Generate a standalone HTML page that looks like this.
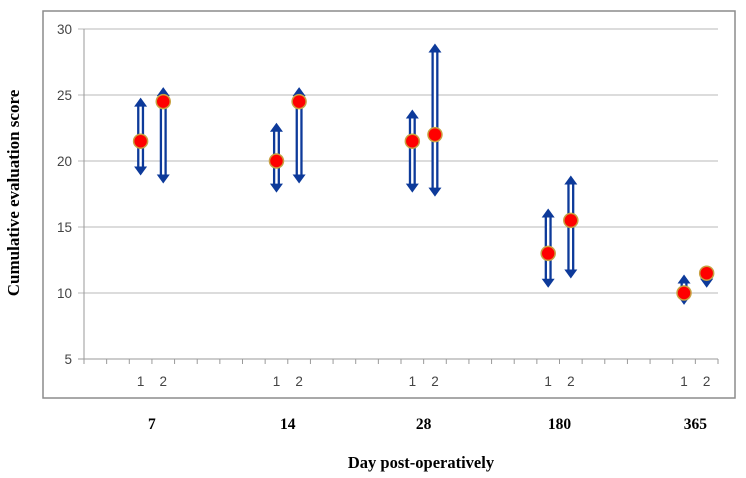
<!DOCTYPE html>
<html><head><meta charset="utf-8"><style>
body{margin:0;background:#fff;}
svg{display:block;font-family:"Liberation Sans",sans-serif;}
.serif{font-family:"Liberation Serif",serif;font-weight:bold;}
</style></head><body>
<svg id="chart" width="746" height="478" viewBox="0 0 746 478">
<rect x="43" y="11" width="692" height="387" fill="#fff" stroke="#8c8c8c" stroke-width="1.5"/>
<g id="grid"></g><g id="marks"></g>
<text x="19" y="193" class="serif" font-size="17" text-anchor="middle" transform="rotate(-90 19 193)">Cumulative evaluation score</text>
<text x="421" y="468" class="serif" font-size="16.5" text-anchor="middle">Day post-operatively</text>
</svg>
<script>
const groups=["7","14","28","180","365"];
const groupSlots=[2.5,8.5,14.5,20.5,26.5];
const subLabels=["1","2"];
const means=[21.5,24.5,20,24.5,21.5,22,13,15.5,10,11.5];
const uppers=[24.8,25.6,22.9,25.6,23.9,28.9,16.4,18.9,11.4,11.8];
const lowers=[18.9,18.3,17.6,18.3,17.6,17.3,10.4,11.1,9.1,10.4];
const yTicks=[5,10,15,20,25,30];
const nSlots=28;
const X0=84,X1=718,Y0=359,Y1=29;
const sx=i=>X0+(X1-X0)/nSlots*(i+0.5);
const sy=v=>Y0-(v-5)/(30-5)*(Y0-Y1);
const NS="http://www.w3.org/2000/svg";
function mk(t,a,p){const e=document.createElementNS(NS,t);for(const k in a)e.setAttribute(k,a[k]);p.appendChild(e);return e;}
const grid=document.getElementById('grid'),marks=document.getElementById('marks');
yTicks.forEach(v=>{
  const y=sy(v);
  const l=mk('line',{x1:X0-6,x2:X1,y1:y,y2:y,stroke:v===5?'#9a9a9a':'#b8b8b8','stroke-width':1},grid);
  
  
  const t=mk('text',{x:X0-12,y:y+5,'text-anchor':'end','font-size':13.5,fill:'#444'},grid);
  t.textContent=v;
  
  
});
const ax=mk('line',{x1:X0,x2:X0,y1:Y1,y2:Y0,stroke:'#9a9a9a'},grid);


for(let i=0;i<=nSlots;i++){
  const x=X0+(X1-X0)/nSlots*i;
  const t=mk('line',{x1:x,x2:x,y1:Y0,y2:Y0+5,stroke:'#9a9a9a'},grid);
  
  
}
groups.forEach((g,gi)=>{
  const gx=sx(groupSlots[gi]);
  const t=mk('text',{x:gx,y:429,'text-anchor':'middle','font-size':15.5,class:'serif'},grid);
  t.textContent=g;
  
  
  subLabels.forEach((s,si)=>{
    const idx=gi*2+si;
    const x=sx(groupSlots[gi]-0.5+si);
    const st=mk('text',{x:x,y:386,'text-anchor':'middle','font-size':13.5,fill:'#444'},grid);
    st.textContent=s;
    
    
    const yu=sy(uppers[idx]),yl=sy(lowers[idx]),ym=sy(means[idx]);
    const gEl=mk('g',{},marks);
    
    
    mk('rect',{x:x-3.5,y:yu+8,width:7,height:Math.max(0,yl-yu-16),fill:'#0d3a9a'},gEl);
    mk('rect',{x:x-1.2,y:yu+8,width:2.4,height:Math.max(0,yl-yu-16),fill:'#fff'},gEl);
    mk('polygon',{points:`${x},${yu} ${x-6.5},${yu+9} ${x+6.5},${yu+9}`,fill:'#0d3a9a'},gEl);
    mk('polygon',{points:`${x},${yl} ${x-6.5},${yl-9} ${x+6.5},${yl-9}`,fill:'#0d3a9a'},gEl);
    const c=mk('circle',{cx:x,cy:ym,r:7,fill:'#ff0000',stroke:'#c8a040','stroke-width':1.5},marks);
    
    
  });
});
</script>
</body></html>
